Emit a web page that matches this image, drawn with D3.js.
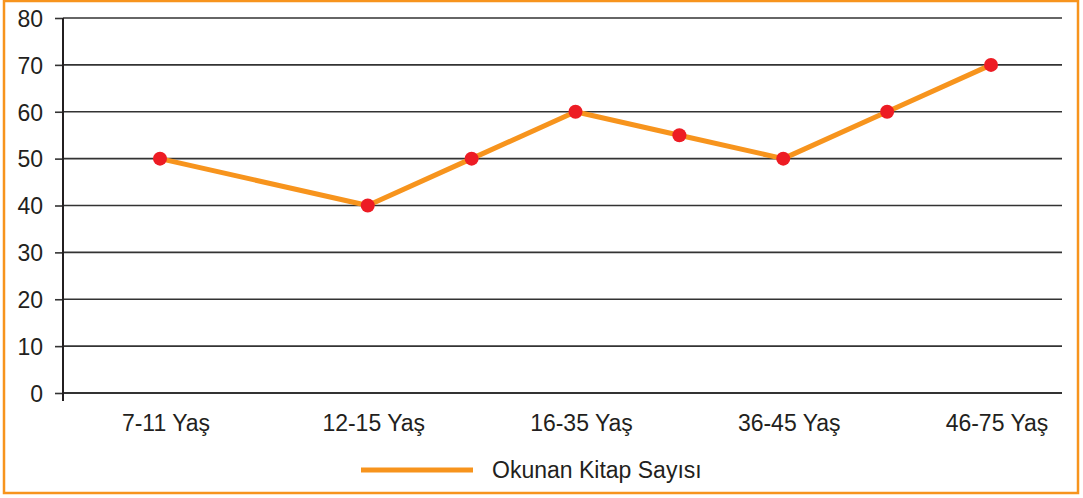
<!DOCTYPE html>
<html>
<head>
<meta charset="utf-8">
<script src="https://cdn.jsdelivr.net/npm/d3@7"></script>
<style>
  body { margin: 0; background: #fff; }
  svg text { font-family: "Liberation Sans", Arial, sans-serif; fill: #231f20; }
</style>
</head>
<body>
<svg id="chart" width="1083" height="498"></svg>
<script>
// slot index along the x axis (one slot = half an age group)
const pointSlots = [0, 2, 3, 4, 5, 6, 7, 8];
const bookCounts = [50, 40, 50, 60, 55, 50, 60, 70];
const ageLabels = ['7-11 Yaş', '12-15 Yaş', '16-35 Yaş', '36-45 Yaş', '46-75 Yaş'];
const labelSlots = [0, 2, 4, 6, 8];
const yTicks = [0, 10, 20, 30, 40, 50, 60, 70, 80];
const seriesName = 'Okunan Kitap Sayısı';

const orange = '#f7941d';
const red = '#ed1c24';

const svg = d3.select('#chart');
const margin = { top: 18, right: 21, bottom: 105, left: 63 };
const width = 1083, height = 498;

// frame
svg.append('rect')
  .attr('x', 4).attr('y', 1)
  .attr('width', 1074).attr('height', 492)
  .attr('fill', 'none')
  .attr('stroke', orange)
  .attr('stroke-width', 2.5);

const x = d3.scaleLinear().domain([0, 8]).range([160, 991]);
const y = d3.scaleLinear().domain([0, 80]).range([height - margin.bottom, margin.top]);

// horizontal grid + y ticks
const yAxis = svg.append('g')
  .attr('transform', `translate(${margin.left},0)`)
  .call(d3.axisLeft(y).tickValues(yTicks)
    .tickSize(8)
    .tickPadding(8));
yAxis.select('.domain').remove();
yAxis.selectAll('.tick line').attr('stroke', '#333').attr('stroke-width', 1.6);
yAxis.selectAll('.tick text')
  .attr('font-size', 23)
  .attr('dy', '0.36em')
  .attr('x', -20);

svg.append('g')
  .selectAll('line')
  .data(yTicks)
  .join('line')
  .attr('x1', margin.left)
  .attr('x2', width - margin.right)
  .attr('y1', (d) => y(d))
  .attr('y2', (d) => y(d))
  .attr('stroke', '#333')
  .attr('stroke-width', (d) => (d === 0 ? 2.2 : 1.6));

// y axis line, with little stub below zero
svg.append('line')
  .attr('x1', margin.left).attr('x2', margin.left)
  .attr('y1', y(80)).attr('y2', y(0) + 8)
  .attr('stroke', '#231f20')
  .attr('stroke-width', 2);

// x labels
svg.append('g')
  .selectAll('text')
  .data(ageLabels)
  .join('text')
  .attr('x', (d, i) => x(labelSlots[i]) + 6)
  .attr('y', y(0) + 38)
  .attr('text-anchor', 'middle')
  .attr('font-size', 23)
  .text((d) => d);

// series
const pts = pointSlots.map((s, i) => ({ s, v: bookCounts[i] }));

svg.append('path')
  .datum(pts)
  .attr('fill', 'none')
  .attr('stroke', orange)
  .attr('stroke-width', 5)
  .attr('stroke-linejoin', 'round')
  .attr('d', d3.line().x((d) => x(d.s)).y((d) => y(d.v)));

svg.append('g')
  .selectAll('circle')
  .data(pts)
  .join('circle')
  .attr('cx', (d) => x(d.s))
  .attr('cy', (d) => y(d.v))
  .attr('r', 7)
  .attr('fill', red);

// legend
const legend = svg.append('g').attr('transform', 'translate(361,470)');
legend.append('line')
  .attr('x1', 0).attr('x2', 112)
  .attr('stroke', orange)
  .attr('stroke-width', 5);
legend.append('text')
  .attr('x', 131)
  .attr('dy', '0.36em')
  .attr('font-size', 23)
  .text(seriesName);
</script>
</body>
</html>
